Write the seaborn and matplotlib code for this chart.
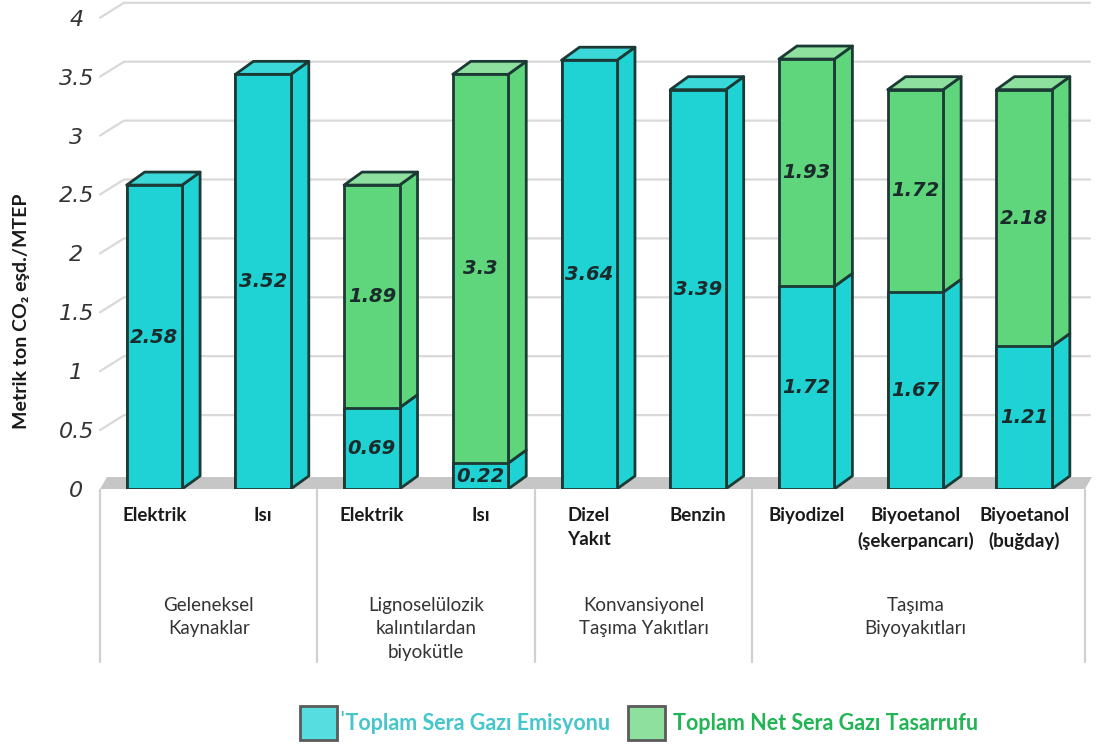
import numpy as np
import pandas as pd
import matplotlib
matplotlib.use("Agg")
import matplotlib.pyplot as plt
import seaborn as sns
from matplotlib.patches import Polygon, Patch
from matplotlib.lines import Line2D

# ---------------- data ----------------
bar_labels = ["Elektrik", "Isı", "Elektrik", "Isı", "Dizel\nYakıt", "Benzin",
              "Biyodizel", "Biyoetanol\n(şekerpancarı)", "Biyoetanol\n(buğday)"]
emission = [2.58, 3.52, 0.69, 0.22, 3.64, 3.39, 1.72, 1.67, 1.21]
savings = [0.0, 0.0, 1.89, 3.30, 0.0, 0.0, 1.93, 1.72, 2.18]
group_names = ["Geleneksel\nKaynaklar", "Lignoselülozik\nkalıntılardan\nbiyokütle",
               "Konvansiyonel\nTaşıma Yakıtları", "Taşıma\nBiyoyakıtları"]
group_of_bar = [0, 0, 1, 1, 2, 2, 3, 3, 3]
y_ticks = [0, 0.5, 1, 1.5, 2, 2.5, 3, 3.5, 4]
y_tick_labels = ["0", "0.5", "1", "1.5", "2", "2.5", "3", "3.5", "4"]
legend_labels = ["ˈToplam Sera Gazı Emisyonu", "Toplam Net Sera Gazı Tasarrufu"]
y_title = "Metrik ton CO₂ eşd./MTEP"

# ---------------- style ----------------
CYAN = "#1FD2D4"
CYAN_TOP = "#3AD8D9"
GREEN = "#5FD57C"
GREEN_TOP = "#8DE09E"
EDGE = "#1C3A35"
GRID = "#D9D9D9"
FLOOR = "#C6C6C6"

sns.set_theme(style="white")
plt.rcParams["font.family"] = ["Lato", "DejaVu Sans"]

W, H = 1102, 749
fig = plt.figure(figsize=(W / 100, H / 100), dpi=100)
ax_left, ax_right, ax_top, ax_bottom = 100, 1085, 0, 489
ax = fig.add_axes([ax_left / W, (H - ax_bottom) / H,
                   (ax_right - ax_left) / W, (ax_bottom - ax_top) / H])

df = pd.DataFrame({
    "idx": [str(i) for i in range(len(bar_labels))],
    "emission": emission,
    "total": [e + s for e, s in zip(emission, savings)],
})
order = list(df["idx"])
bar_w = 0.51

sns.barplot(data=df, x="idx", y="total", order=order, color=GREEN,
            saturation=1, width=bar_w, edgecolor=EDGE, linewidth=2, ax=ax, zorder=3)
sns.barplot(data=df, x="idx", y="emission", order=order, color=CYAN,
            saturation=1, width=bar_w, edgecolor=EDGE, linewidth=2, ax=ax, zorder=4)

xmax = 8.56
ax.set_xlim(-0.5, xmax)
ymax = (ax_bottom - ax_top) / 117.8
ax.set_ylim(0, ymax)
for s in ax.spines.values():
    s.set_visible(False)
ax.set_xlabel("")
ax.set_ylabel("")

# pixel -> data conversion
sx = (xmax + 0.5) / (ax_right - ax_left)
sy = ymax / (ax_bottom - ax_top)

# floor
fdx, fdy = 7 * sx, 12 * sy
ax.add_patch(Polygon([(-0.5, 0), (xmax, 0), (xmax + fdx, fdy), (-0.5 + fdx, fdy)],
                     closed=True, facecolor=FLOOR, edgecolor="none", zorder=1,
                     clip_on=False))

# gridlines in back plane
gdx, gdy = 24 * sx, 15 * sy
for v in y_ticks[1:]:
    ax.add_line(Line2D([-0.5, -0.5 + gdx, xmax + 5 * sx], [v, v + gdy, v + gdy],
                       color=GRID, lw=1.6, zorder=0.5, clip_on=False))

# 3D faces for bars
bdx, bdy = 18 * sx, 13 * sy
for i, (e, s) in enumerate(zip(emission, savings)):
    xr = i + bar_w / 2
    xl = i - bar_w / 2
    segs = [(0, e, CYAN, CYAN_TOP)]
    if s > 0:
        segs.append((e, e + s, GREEN, GREEN_TOP))
    for k, (b, t, col, topcol) in enumerate(segs):
        ax.add_patch(Polygon([(xr, b), (xr, t), (xr + bdx, t + bdy), (xr + bdx, b + bdy)],
                             closed=True, facecolor=col, edgecolor=EDGE, lw=2,
                             joinstyle="round", zorder=2.5))
        if k == len(segs) - 1:
            ax.add_patch(Polygon([(xl, t), (xr, t), (xr + bdx, t + bdy), (xl + bdx, t + bdy)],
                                 closed=True, facecolor=topcol, edgecolor=EDGE, lw=2,
                                 joinstyle="round", zorder=2.5))
    # value labels
    ax.text(i, e / 2, f"{e:g}", ha="center", va="center", fontsize=14,
            fontweight="bold", fontstyle="italic", family="DejaVu Sans",
            color="#1B2A2A", zorder=6)
    if s > 0:
        ax.text(i, e + s / 2, f"{s:g}", ha="center", va="center", fontsize=14,
                fontweight="bold", fontstyle="italic", family="DejaVu Sans",
                color="#1B2A2A", zorder=6)

# y ticks
ax.set_yticks(y_ticks)
ax.set_yticklabels(y_tick_labels, fontsize=16, fontstyle="italic",
                   family="DejaVu Sans", color="#333333")
ax.tick_params(axis="y", length=0, pad=17)
for lab in ax.get_yticklabels():
    lab.set_horizontalalignment("center")
ax.grid(False)

# x tick labels (bar names)
ax.set_xticks(range(len(bar_labels)))
ax.set_xticklabels(bar_labels, fontsize=13.5, fontweight="bold", color="#1A1A1A",
                   linespacing=1.5)
ax.tick_params(axis="x", length=0, pad=13)
for lab, txt in zip(ax.get_xticklabels(), bar_labels):
    if txt.startswith("Dizel"):
        lab.set_multialignment("left")

# group dividers and labels
trans = ax.get_xaxis_transform()
bot = -(662 - ax_bottom) / (ax_bottom - ax_top)
bounds = [-0.5]
for g in range(1, len(group_names)):
    first = group_of_bar.index(g)
    bounds.append(first - 0.5)
bounds.append(xmax)
for b in bounds:
    ax.add_line(Line2D([b, b], [-0.002, bot], transform=trans, color="#D0D0D0",
                       lw=1.6, clip_on=False))
gy = -(597 - ax_bottom) / (ax_bottom - ax_top)
for g, name in enumerate(group_names):
    members = [i for i, gg in enumerate(group_of_bar) if gg == g]
    ax.text(np.mean(members), gy, name, transform=trans, ha="center", va="top",
            fontsize=13.5, color="#333333", linespacing=1.45)

# y title
fig.text(22 / W, 1 - 311 / H, y_title, rotation=90, ha="center", va="center",
         fontsize=14, fontweight="bold", color="#1A1A1A")

# legend (two separate pieces)
h1 = Patch(facecolor="#55DDE0", edgecolor="#5A5A5A", lw=2)
h2 = Patch(facecolor="#8EE09F", edgecolor="#5A5A5A", lw=2)
leg1 = fig.legend([h1], [legend_labels[0]], loc="center left",
                  bbox_to_anchor=(300 / W, 1 - 723 / H), frameon=False,
                  handlelength=1.7, handleheight=2.1, handletextpad=0.15,
                  borderpad=0, borderaxespad=0,
                  prop={"family": ["Lato", "DejaVu Sans"], "weight": "bold", "size": 15.5})
leg1.get_texts()[0].set_color("#45C6CB")
leg2 = fig.legend([h2], [legend_labels[1]], loc="center left",
                  bbox_to_anchor=(628 / W, 1 - 723 / H), frameon=False,
                  handlelength=1.7, handleheight=2.1, handletextpad=0.4,
                  borderpad=0, borderaxespad=0,
                  prop={"family": ["Lato", "DejaVu Sans"], "weight": "bold", "size": 15.5})
leg2.get_texts()[0].set_color("#22B455")

fig.savefig("out.png", dpi=100, facecolor="white")
